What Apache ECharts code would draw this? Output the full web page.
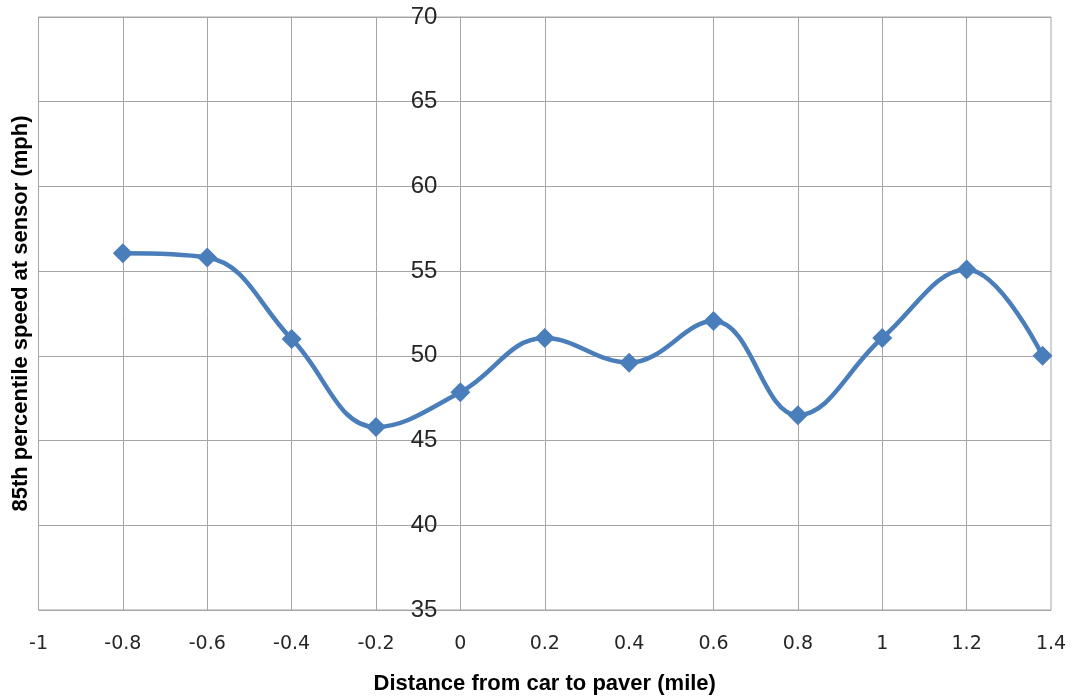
<!DOCTYPE html>
<html>
<head>
<meta charset="utf-8">
<script src="https://cdn.jsdelivr.net/npm/echarts@6/dist/echarts.min.js"></script>
<style>
html,body{margin:0;padding:0;background:#fff;}
#chart{width:1075px;height:700px;}
</style>
</head>
<body>
<div id="chart"></div>
<script>
// Data
const distances = [-0.8, -0.6, -0.4, -0.2, 0, 0.2, 0.4, 0.6, 0.8, 1.0, 1.2, 1.38];
const speeds = [56.05, 55.8, 51.0, 45.8, 47.85, 51.05, 49.6, 52.05, 46.5, 51.05, 55.1, 50.0];
const xTitle = 'Distance from car to paver (mile)';
const yTitle = '85th percentile speed at sensor (mph)';
const xMin = -1, xMax = 1.4, xStep = 0.2;
const yMin = 35, yMax = 70, yStep = 5;
// vertical grid lines drawn in the reference (no line at 0.4 there)
const xGridValues = [-0.8, -0.6, -0.4, -0.2, 0, 0.2, 0.6, 0.8, 1.0, 1.2];

const gridColor = '#a6a6a6';
const fontFamily = '"Liberation Sans", Arial, sans-serif';
const wideFont = '"DejaVu Sans", "Liberation Sans", sans-serif';
const W = 1075, gridLeft = 38.5, gridRight = 24;
const plotWidth = W - gridLeft - gridRight;
// vertical axis crosses the horizontal one at x = 0
const yAxisOffset = -((0 - xMin) / (xMax - xMin)) * plotWidth;

const chart = echarts.init(document.getElementById('chart'));
chart.setOption({
  animation: false,
  backgroundColor: '#ffffff',
  grid: {
    left: gridLeft, right: gridRight, top: 17, bottom: 90,
    show: true, borderColor: gridColor, borderWidth: 1,
    containLabel: false, outerBoundsMode: 'none'
  },
  xAxis: {
    type: 'value', min: xMin, max: xMax, interval: xStep,
    name: xTitle, nameLocation: 'middle', nameGap: 63,
    nameTextStyle: { fontFamily: fontFamily, fontWeight: 'bold', fontSize: 22, color: '#000' },
    axisLine: { show: false, onZero: false },
    axisTick: { show: false },
    axisLabel: {
      margin: 25, fontFamily: wideFont, fontSize: 19, color: '#262626',
      formatter: function (v) { return String(Math.round(v * 10) / 10); }
    },
    splitLine: { show: false }
  },
  yAxis: {
    type: 'value', min: yMin, max: yMax, interval: yStep,
    offset: yAxisOffset,
    name: yTitle, nameLocation: 'middle', nameGap: 428, nameRotate: 90,
    nameTextStyle: { fontFamily: fontFamily, fontWeight: 'bold', fontSize: 22, color: '#000' },
    axisLine: { show: true, onZero: false, lineStyle: { color: gridColor, width: 1 } },
    axisTick: { show: false },
    axisLabel: { margin: 23, fontFamily: fontFamily, fontSize: 24, color: '#262626' },
    splitLine: { show: true, lineStyle: { color: gridColor, width: 1 } }
  },
  series: [{
    type: 'line',
    z: 3,
    data: distances.map((d, i) => [d, speeds[i]]),
    smooth: 0.4,
    symbol: 'diamond',
    symbolSize: 20,
    lineStyle: { color: '#4a7ebb', width: 4.5 },
    itemStyle: { color: '#4a7ebb' },
    markLine: {
      z: 1,
      silent: true,
      symbol: ['none', 'none'],
      label: { show: false },
      emphasis: { disabled: true },
      lineStyle: { color: gridColor, type: 'solid', width: 1 },
      data: xGridValues.map(v => ({ xAxis: v }))
    }
  }]
});
</script>
</body>
</html>
